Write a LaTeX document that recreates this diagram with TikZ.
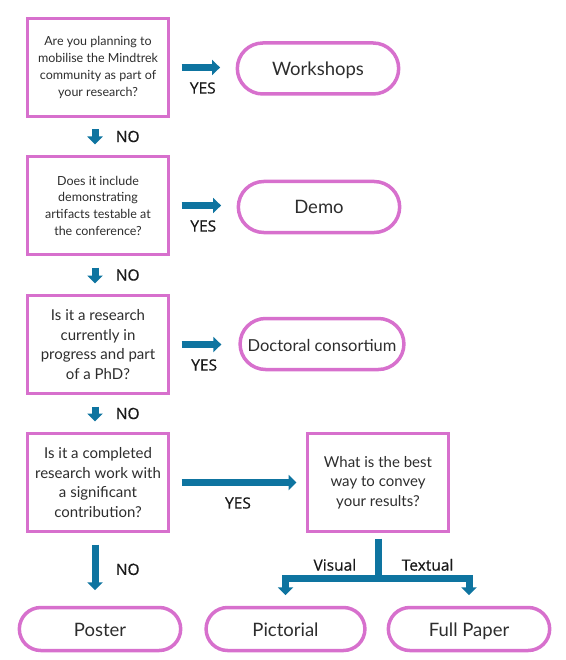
\documentclass[tikz,border=0pt]{standalone}
\usepackage{fontspec}
\setmainfont{Lato}
\newfontfamily\labelfont[FakeBold=0.6]{Open Sans}
\usetikzlibrary{arrows.meta,shapes.misc}
\definecolor{boxpink}{RGB}{215,112,205}
\definecolor{flowblue}{RGB}{14,116,160}
\definecolor{txtgrey}{RGB}{45,45,45}

\begin{document}
\begin{tikzpicture}
  [x=1pt,y=-1pt,
   question/.style={draw=boxpink,line width=3pt,minimum width=141pt,minimum height=98pt,
     align=center,text=txtgrey,inner sep=2pt},
   small/.style={font=\fontsize{12.5}{16.7}\selectfont},
   large/.style={font=\fontsize{15}{19.5}\selectfont},
   answer/.style={rounded rectangle,draw=boxpink,line width=3.5pt,minimum width=168pt,
     minimum height=51pt,text=txtgrey,text height=16pt,text depth=2pt,
     font=\fontsize{18.5}{20}\selectfont},
   flow/.style={draw=flowblue,line width=7pt,-{Triangle[width=15pt,length=8pt]}},
   link/.style={draw=flowblue,line width=7pt},
   reply/.style={font=\labelfont\fontsize{15.5}{17}\selectfont,text=black!90}]
  \useasboundingbox (0,0) rectangle (565,660);

  % questions
  \node[question,small] (q1) at (98,67.5)  {Are you planning to\\mobilise the Mindtrek\\community as part of\\your research?};
  \node[question,small] (q2) at (98,205.5) {Does it include\\demonstrating\\artifacts testable at\\the conference?};
  \node[question,large] (q3) at (98,344.5) {Is it a research\\currently in\\progress and part\\of a PhD?};
  \node[question,large] (q4) at (98,482.5) {Is it a completed\\research work with\\a significant\\contribution?};
  \node[question,large] (q5) at (378,482.5) {What is the best\\way to convey\\your results?};

  % answers
  \node[answer] (workshops) at (318,68.5) {Workshops};
  \node[answer] (demo) at (319,207) {Demo};
  \node[answer,minimum width=170.5pt,font=\fontsize{16.5}{20}\selectfont] (doctoral) at (322,344) {Doctoral consortium};
  \node[answer,minimum height=43pt] (poster) at (100,629) {Poster};
  \node[answer,minimum height=43pt,minimum width=165.5pt] (pictorial) at (285.5,629) {Pictorial};
  \node[answer,minimum height=43pt] (fullpaper) at (469,629) {Full Paper};

  \foreach \from/\to/\gap in {q1/workshops/15.5,q2/demo/15.5,q3/doctoral/17,q4/q5/9.5}
    \draw[flow,shorten <=11.5pt,shorten >=\gap pt] (\from.east) -- node[reply,below=8pt]{YES} (\from.east -| \to.west);

  \foreach \from/\to/\gap in {q1/q2/10.5,q2/q3/10.5,q3/q4/10.5,q4/poster/15.5}
    \draw[flow,shorten <=11.5pt,shorten >=\gap pt] ([xshift=-3pt]\from.south) -- node[reply,right=14pt]{NO} ([xshift=-3pt]\from.south |- \to.north);

  \draw[link,shorten <=5.5pt] (q5.south) -- node[reply,pos=0.7,left=15pt]{Visual} node[reply,pos=0.7,right=17pt]{Textual} ++(0,45.5) coordinate (split);
  \draw[flow,shorten >=10.5pt] (split) -| (pictorial.north);
  \draw[flow,shorten >=10.5pt] (split) -| (fullpaper.north);

\end{tikzpicture}
\end{document}
